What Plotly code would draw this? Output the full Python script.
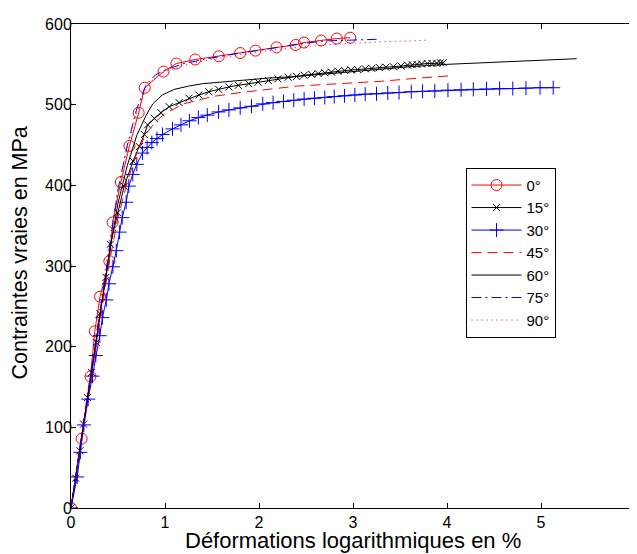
import plotly.graph_objects as go

# ---------------- data ----------------
x0 = [0, 0.113, 0.207, 0.253, 0.309, 0.408, 0.443, 0.53, 0.622, 0.72, 0.784, 0.984, 1.121,
      1.322, 1.572, 1.80, 1.962, 2.187, 2.391, 2.479, 2.661, 2.827, 2.971]
y0 = [0, 86, 163, 219, 262, 306, 354, 404, 449, 490, 521, 541, 551,
      556, 560, 564, 567, 571, 574, 577, 579.5, 582, 583]

x15 = [0, 0.05, 0.095, 0.134, 0.176, 0.22, 0.27, 0.309, 0.372, 0.419, 0.496, 0.566, 0.66,
       0.728, 0.78, 0.815, 0.886, 0.957, 1.044, 1.15, 1.255, 1.36, 1.466, 1.57, 1.68, 1.78,
       1.89, 1.99, 2.10, 2.20, 2.31, 2.40, 2.48, 2.56, 2.63, 2.70, 2.77, 2.84, 2.91, 2.98,
       3.05, 3.13, 3.20, 3.28, 3.35, 3.43, 3.51, 3.58, 3.63, 3.68, 3.73, 3.79, 3.84, 3.89,
       3.93, 3.96]
y15 = [0, 37, 71, 104, 137, 168, 205, 241, 286, 327, 366, 399, 430,
       448, 463, 475, 483, 490, 497.5, 502.5, 508, 512, 516, 519, 522, 524,
       526, 528, 530, 532, 534, 535, 536.5, 537.5, 538.5, 539.5, 540.5, 541.5, 542.5, 543,
       543.5, 544.5, 545, 546, 546.5, 547, 548, 549, 549.5, 550, 550.5, 551, 551, 551.5,
       552, 552]

x30 = [0, 0.066, 0.10, 0.137, 0.183, 0.229, 0.264, 0.306, 0.334, 0.376, 0.404, 0.446, 0.482,
       0.517, 0.545, 0.587, 0.615, 0.657, 0.70, 0.76, 0.81, 0.86, 0.915, 0.974, 1.08, 1.17,
       1.26, 1.355, 1.45, 1.57, 1.68, 1.80, 1.92, 2.04, 2.15, 2.26, 2.37, 2.48, 2.59, 2.70,
       2.80, 2.91, 3.02, 3.13, 3.25, 3.37, 3.49, 3.62, 3.74, 3.87, 4.01, 4.15, 4.28, 4.42,
       4.56, 4.70, 4.84, 4.99, 5.13]
y30 = [0, 38.5, 69, 103, 135, 163.5, 189, 213.6, 236, 258, 278, 299, 319,
       342, 360, 379, 399, 413.5, 426, 440, 447, 453, 458, 463, 470, 475,
       480, 484, 487, 491, 493.5, 496, 498, 501, 502.5, 504, 505.5, 507, 508, 509,
       510, 511, 512, 513, 513.5, 514.5, 515, 516, 516.5, 517, 518, 518.5, 519, 519.5,
       520, 520, 520.5, 521, 521]

x45 = [0, 0.1, 0.2, 0.3, 0.4, 0.5, 0.6, 0.7, 0.8, 0.9, 1.0, 1.2, 1.5, 1.8, 2.1, 2.4, 2.7,
       3.0, 3.3, 3.6, 3.9, 4.05]
y45 = [0, 76, 152, 228, 300, 360, 405, 440, 464, 479, 489, 501, 510, 515, 519, 523, 525,
       527, 529, 532, 535, 536]

x60 = [0, 0.1, 0.2, 0.3, 0.4, 0.5, 0.6, 0.7, 0.8, 0.87, 0.97, 1.1, 1.25, 1.4, 1.6, 1.75,
       2.1, 2.4, 2.8, 3.2, 3.6, 4.0, 4.4, 4.8, 5.1, 5.38]
y60 = [0, 78, 156, 234, 310, 378, 425, 462, 487, 501, 512, 519, 523, 526, 528, 530,
       533, 535, 539, 543, 547, 550, 552, 554, 555.5, 557]

x75 = [0, 0.1, 0.2, 0.3, 0.4, 0.5, 0.6, 0.7, 0.8, 0.9, 1.0, 1.2, 1.5, 1.8, 2.1, 2.4, 2.7,
       3.0, 3.25]
y75 = [0, 80, 160, 240, 320, 395, 450, 495, 525, 537, 543, 551, 558, 564, 569, 575, 579,
       580.5, 581]

x90 = [0, 0.1, 0.2, 0.3, 0.4, 0.5, 0.6, 0.7, 0.8, 0.9, 1.0, 1.2, 1.5, 1.8, 2.1, 2.4, 2.7,
       3.0, 3.3, 3.6, 3.8]
y90 = [0, 82, 164, 246, 325, 395, 448, 490, 520, 534, 541, 549, 556, 562, 567, 571, 574,
       576, 578, 579, 580]

x_ticks = [0, 1, 2, 3, 4, 5, 6]
y_ticks = [0, 100, 200, 300, 400, 500, 600]

RED = "#FF0000"
BLUE = "#0000FF"
BLACK = "#000000"
FONT = "Liberation Sans, Arial, sans-serif"

fig = go.Figure()
fig.add_trace(go.Scatter(x=x0, y=y0, name="0°", mode="lines+markers",
                         line=dict(color=RED, width=1),
                         marker=dict(symbol="circle-open", size=11, color=RED, line=dict(width=1))))
fig.add_trace(go.Scatter(x=x15, y=y15, name="15°", mode="lines+markers",
                         line=dict(color=BLACK, width=1),
                         marker=dict(symbol="x-thin-open", size=7, color=BLACK, line=dict(width=1, color=BLACK))))
fig.add_trace(go.Scatter(x=x30, y=y30, name="30°", mode="lines+markers",
                         line=dict(color=BLUE, width=1),
                         marker=dict(symbol="cross-thin-open", size=10, color=BLUE, line=dict(width=1, color=BLUE))))
fig.add_trace(go.Scatter(x=x45, y=y45, name="45°", mode="lines",
                         line=dict(color=RED, width=1, dash="10px,6px")))
fig.add_trace(go.Scatter(x=x60, y=y60, name="60°", mode="lines",
                         line=dict(color=BLACK, width=1)))
fig.add_trace(go.Scatter(x=x75, y=y75, name="75°", mode="lines",
                         line=dict(color=BLUE, width=1, dash="10px,4px,2px,4px")))
fig.add_trace(go.Scatter(x=x90, y=y90, name="90°", mode="lines",
                         line=dict(color=RED, width=1, dash="1px,4px")))

# page body has an 8px margin: figure pixel = page pixel - 8
OFF = 8
L, T = 71 - OFF, 20 - OFF          # plot left / top in figure px
W = 640 + 8 - OFF                  # figure width (plot right edge at page x=640, just beyond window)
H = 554 - OFF
R = W - (640 - OFF)
B = H - (508 - OFF)
plot_w = W - L - R
plot_h = H - T - B

axis_common = dict(showgrid=False, zeroline=False, showline=True, linecolor=BLACK,
                   linewidth=1, ticks="inside", ticklen=5, tickcolor=BLACK, tickwidth=1,
                   mirror="ticks", tickfont=dict(family=FONT, size=16, color=BLACK))

def px_x(page_x):
    return (page_x - OFF - L) / plot_w

def px_y(page_y):
    return (H - B - (page_y - OFF)) / plot_h

fig.update_layout(
    width=W, height=H,
    margin=dict(l=L, r=R, t=T, b=B),
    paper_bgcolor="white", plot_bgcolor="white",
    font=dict(family=FONT, color=BLACK),
    xaxis=dict(range=[0, 6], tickvals=x_ticks, ticktext=[str(v) for v in x_ticks],
               ticklabelstandoff=0, **axis_common),
    yaxis=dict(range=[0, 600], tickvals=y_ticks, ticktext=[str(v) for v in y_ticks],
               ticklabelstandoff=-5, **axis_common),
    showlegend=True,
    legend=dict(x=px_x(469), y=px_y(165), xanchor="left", yanchor="top",
                bgcolor="white", bordercolor=BLACK, borderwidth=1, itemwidth=50,
                font=dict(family=FONT, size=15, color=BLACK)),
    annotations=[
        dict(text="Déformations logarithmiques en %", xref="paper", yref="paper",
             x=px_x(355), y=px_y(541), xanchor="center", yanchor="middle",
             showarrow=False, font=dict(family=FONT, size=22, color=BLACK)),
        dict(text="Contraintes vraies en MPa", xref="paper", yref="paper",
             x=px_x(20), y=px_y(251), xanchor="center", yanchor="middle",
             textangle=-90, showarrow=False, font=dict(family=FONT, size=21.5, color=BLACK)),
    ],
)

fig.write_html("out.html")
